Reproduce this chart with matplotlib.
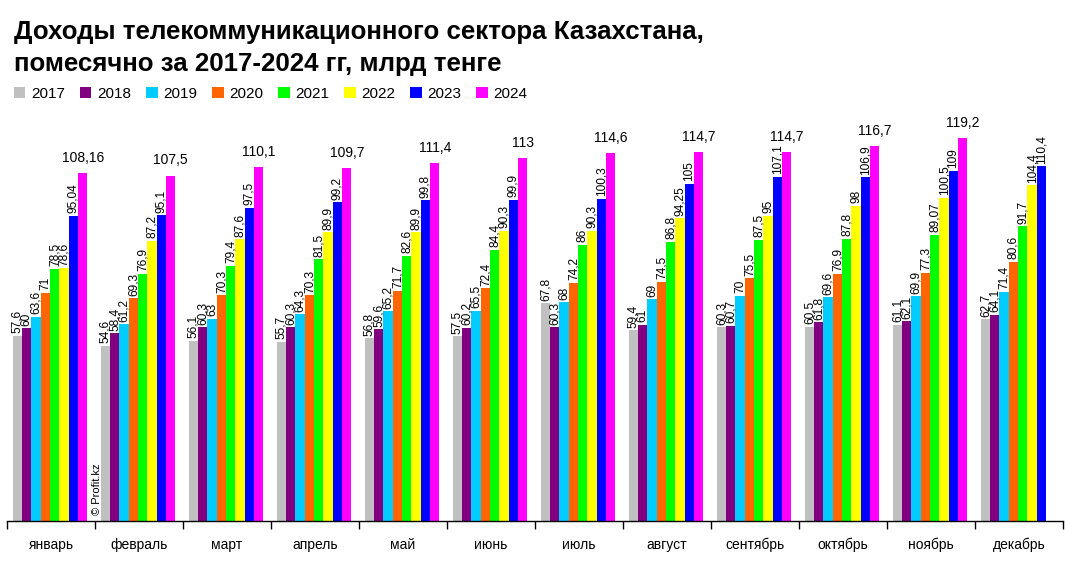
import matplotlib
matplotlib.use("Agg")
import matplotlib.pyplot as plt
from matplotlib.patches import Patch
import numpy as np

plt.rcParams['font.family'] = ['Liberation Sans', 'DejaVu Sans']

months = ["январь", "февраль", "март", "апрель", "май", "июнь",
          "июль", "август", "сентябрь", "октябрь", "ноябрь", "декабрь"]
years = ["2017", "2018", "2019", "2020", "2021", "2022", "2023", "2024"]
colors = ["#C0C0C0", "#800080", "#00CCFF", "#FF6600",
          "#00FF00", "#FFFF00", "#0000FF", "#FF00FF"]

v2017 = [57.6, 54.6, 56.1, 55.7, 56.8, 57.5, 67.8, 59.4, 60.3, 60.5, 61.1, 62.7]
v2018 = [60, 58.4, 60.3, 60.3, 59.6, 60.2, 60.3, 61, 60.7, 61.8, 62.1, 64.1]
v2019 = [63.6, 61.2, 63, 64.3, 65.2, 65.5, 68, 69, 70, 69.6, 69.9, 71.4]
v2020 = [71, 69.3, 70.3, 70.3, 71.7, 72.4, 74.2, 74.5, 75.5, 76.9, 77.3, 80.6]
v2021 = [78.5, 76.9, 79.4, 81.5, 82.6, 84.4, 86, 86.8, 87.5, 87.8, 89.07, 91.7]
v2022 = [78.6, 87.2, 87.6, 89.9, 89.9, 90.3, 90.3, 94.25, 95, 98, 100.5, 104.4]
v2023 = [95.04, 95.1, 97.5, 99.2, 99.8, 99.9, 100.3, 105, 107.1, 106.9, 109, 110.4]
v2024 = [108.16, 107.5, 110.1, 109.7, 111.4, 113, 114.6, 114.7, 114.7, 116.7, 119.2]

series = [v2017, v2018, v2019, v2020, v2021, v2022, v2023, v2024]

fig = plt.figure(figsize=(10.65, 5.66), dpi=100)
ax = fig.add_axes([7 / 1065, 45 / 566, 1056 / 1065, 421 / 566])

n = len(series)
w = 0.106
x = np.arange(len(months))

def fmt(v):
    return f"{v:g}".replace(".", ",")

for i, (vals, c) in enumerate(zip(series, colors)):
    xs = x[:len(vals)] + (i - (n - 1) / 2) * w - 0.01
    ax.bar(xs, vals, width=w, color=c, linewidth=0)
    for xx, v in zip(xs, vals):
        if i == n - 1:
            ax.text(xx, v + 2.5, fmt(v), ha="center", va="bottom", fontsize=10)
        else:
            ax.text(xx, v + 0.8, fmt(v), ha="center", va="bottom", rotation=90,
                    fontsize=8.6, family=['Liberation Sans Narrow', 'Liberation Sans'])

ax.set_xlim(-0.5, len(months) - 0.5)
ax.set_ylim(0, 131)
ax.set_yticks([])
for s in ["top", "left", "right"]:
    ax.spines[s].set_visible(False)
ax.spines["bottom"].set_linewidth(1)
ax.set_xticks(x)
ax.set_xticklabels(months, fontsize=10)
ax.tick_params(axis="x", which="major", length=0, pad=12)
ax.set_xticks(np.arange(len(months) + 1) - 0.5, minor=True)
ax.tick_params(axis="x", which="minor", length=6, width=1, direction="out")

ax.text(0.5 + 0.02, 2, "© Profit.kz", rotation=90, ha="center", va="bottom", fontsize=8)

fig.text(14 / 1065, 1 - 20 / 566,
         "Доходы телекоммуникационного сектора Казахстана,\nпомесячно за 2017-2024 гг, млрд тенге",
         ha="left", va="top", fontsize=18.6, fontweight="bold", linespacing=1.4)

handles = [Patch(facecolor=c, edgecolor="none") for c in colors]
fig.legend(handles, years, loc="upper left", bbox_to_anchor=(14 / 1065, 1 - 87 / 566),
           ncol=8, frameon=False, fontsize=11, handlelength=0.75, handleheight=0.75,
           handletextpad=0.35, columnspacing=1.0, borderaxespad=0, borderpad=0)

fig.savefig("out.png", dpi=100)
